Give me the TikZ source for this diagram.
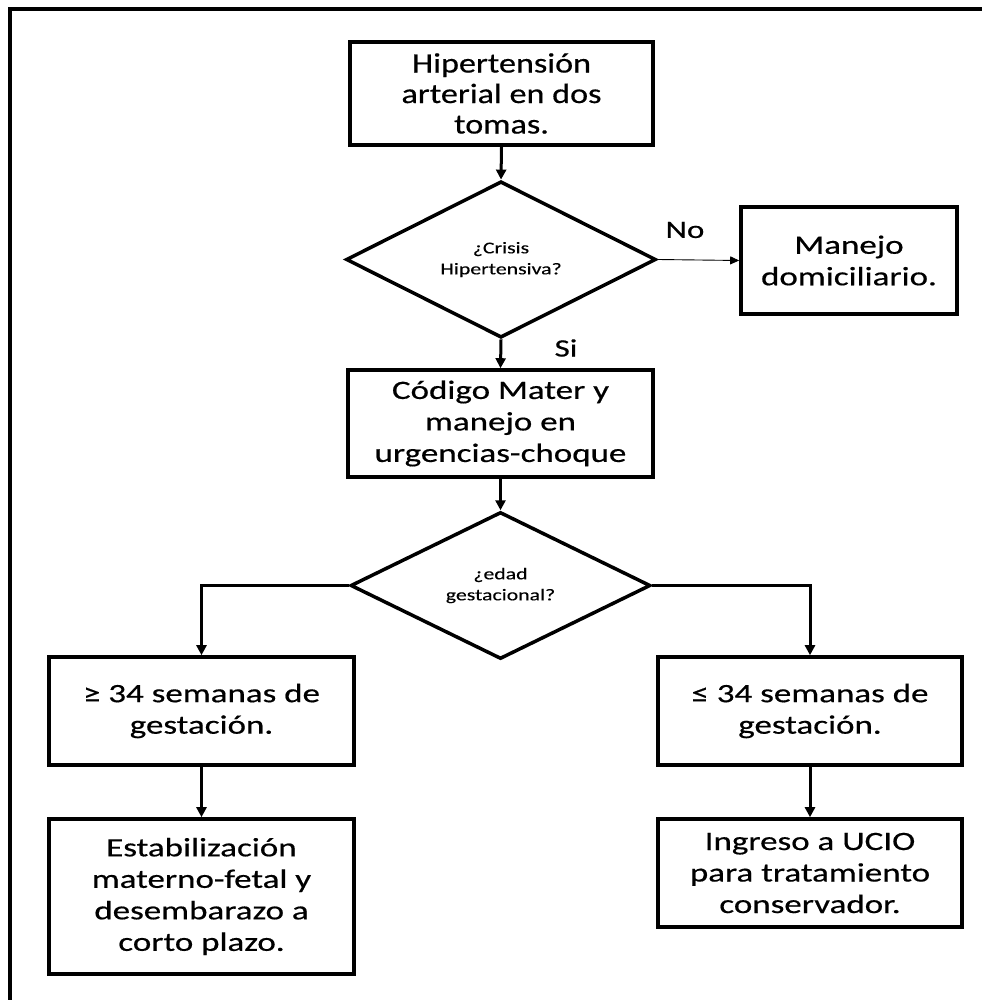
\documentclass[tikz,border=0pt]{standalone}
\usepackage{fontspec}
\usetikzlibrary{shapes.geometric,arrows.meta}
\newfontfamily\boxfont{Carlito}[FakeStretch=1.32,FakeBold=0.5]
\newfontfamily\topfont{Carlito}[FakeStretch=1.22,FakeBold=0.5]
\newfontfamily\smallfont{Carlito}[FakeStretch=1.32,FakeBold=0.2]
\begin{document}
\begin{tikzpicture}[x=1pt,y=-1pt,
  stepbox/.style={draw,line width=3.6pt,inner sep=0pt,align=center,
    font=\boxfont\fontsize{26.5pt}{31.5pt}\selectfont},
  topbox/.style={stepbox,font=\topfont\fontsize{28pt}{30.5pt}\selectfont},
  decision/.style={draw,diamond,line width=3.5pt,inner sep=0pt,align=center,
    font=\smallfont\fontsize{16.5pt}{21pt}\selectfont},
  lbl/.style={inner sep=0pt,font=\boxfont\fontsize{25pt}{30pt}\selectfont},
  arr/.style={line width=3pt,-{Triangle[length=10pt,width=10pt]}},
  thinarr/.style={line width=0.9pt,-{Triangle[length=9pt,width=8pt]}}]
\useasboundingbox (0,0) rectangle (982,1000);
\fill[white] (0,0) rectangle (982,1000);
% outer frame (right and bottom edges fall outside)
\coordinate (fbl) at (9.5,1000);
\coordinate (ftl) at (9.5,9.5);
\coordinate (ftr) at (982,9.5);
\draw[line width=4pt] (fbl) -- (ftl) -- (ftr);

\node[topbox,minimum width=303pt,minimum height=103pt] (top) at (501.5,93.5)
  {Hipertensión\\arterial en dos\\tomas.};
\node[decision,minimum width=310pt,minimum height=147pt] (d1) at (501,259.5)
  {¿Crisis\\Hipertensiva?};
\node[stepbox,minimum width=216pt,minimum height=107pt] (home) at (849,260.5)
  {Manejo\\domiciliario.};
\node[stepbox,minimum width=305pt,minimum height=107pt] (mater) at (500.5,423.5)
  {Código Mater y\\manejo en\\urgencias-choque};
\node[decision,minimum width=300pt,minimum height=147pt] (d2) at (500.5,585.5)
  {¿edad\\gestacional?};
\node[stepbox,minimum width=305pt,minimum height=108pt] (ge) at (201.5,711)
  {≥ 34 semanas de\\gestación.};
\node[stepbox,minimum width=304pt,minimum height=108pt] (le) at (810,711)
  {≤ 34 semanas de\\gestación.};
\node[stepbox,minimum width=305pt,minimum height=155pt] (estab) at (201.5,896.5)
  {Estabilización\\materno-fetal y\\desembarazo a\\corto plazo.};
\node[stepbox,minimum width=304pt,minimum height=108pt] (ucio) at (810,873)
  {Ingreso a UCIO\\para tratamiento\\conservador.};

\node[lbl] (no) at (685,230) {No};
\node[lbl] (si) at (566,348) {Si};

\draw[arr] (top.south) -- (d1.north);
\draw[thinarr] (d1.east) -- (home.west);
\draw[arr] (d1.south) -- (mater.north);
\draw[arr] (mater.south) -- (d2.north);
\draw[arr] (d2.west) -| (ge.north);
\draw[arr] (d2.east) -| (le.north);
\draw[arr] (ge.south) -- (estab.north);
\draw[arr] (le.south) -- (ucio.north);
\end{tikzpicture}
\end{document}
